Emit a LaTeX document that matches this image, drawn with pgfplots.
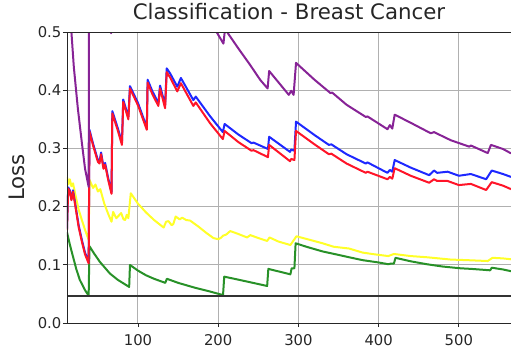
\documentclass[border=0pt]{standalone}
\usepackage{pgfplots}
\pgfplotsset{compat=1.18}
\usepackage{fontspec}
\setmainfont{DejaVu Sans}
\definecolor{txt}{RGB}{38,38,38}
\definecolor{gridc}{RGB}{176,176,176}
\definecolor{cgreen}{RGB}{40,145,40}
\definecolor{cyellow}{RGB}{255,255,40}
\definecolor{cred}{RGB}{255,20,40}
\definecolor{cblue}{RGB}{30,40,255}
\definecolor{cpurple}{RGB}{135,35,150}
\begin{document}
\begin{tikzpicture}
\begin{axis}[
  name=ax,
  scale only axis,
  width=444pt, height=291pt,
  xmin=11.5, xmax=565, ymin=0, ymax=0.5,
  xtick={100,200,300,400,500},
  ytick={0,0.1,0.2,0.3,0.4,0.5},
  yticklabels={0.0,0.1,0.2,0.3,0.4,0.5},
  xticklabels={100,200,300,400,500},
  tick pos=left,
  tick align=outside,
  major tick length=4pt,
  tick style={txt, line width=0.9pt},
  axis line style={draw=none},
  grid=major,
  major grid style={gridc, line width=1pt},
  /pgf/number format/assume math mode=true,
  tick label style={font=\fontsize{14.8}{16}\selectfont, text=txt, inner sep=0pt},
  yticklabel style={anchor=east, xshift=-1.5pt},
  xticklabel style={anchor=north, yshift=-7pt},
  title={Classification - Breast Cancer},
  title style={font=\fontsize{21.3}{24}\selectfont, text=txt, at={(axis description cs:0.5,1)}, anchor=base, yshift=7pt, inner sep=0pt},
  ylabel={Loss},
  ylabel style={font=\fontsize{21.3}{24}\selectfont, text=txt, at={(axis description cs:-0.0946,0.5)}, anchor=south, inner sep=0pt},
  every axis plot/.append style={line width=2pt, line join=round},
]
% green
\addplot[cgreen] coordinates {
(11.5,0.156)(15,0.135)(19,0.114)(23,0.093)(27.5,0.074)(33.75,0.057)(38.5,0.047)
(39.5,0.132)(45,0.12)(52.5,0.105)(65,0.085)(75,0.074)(89,0.062)
(90,0.0997)(100,0.09)(110,0.082)(120,0.076)(134,0.069)
(136,0.076)(150,0.069)(170,0.061)(190,0.054)(206,0.048)
(207.5,0.0796)(220,0.076)(240,0.07)(261,0.0636)
(262.5,0.093)(280,0.087)(290,0.0836)(291.5,0.094)(295,0.094)
(296.5,0.137)(310,0.131)(330,0.123)(350,0.117)(363,0.113)(380,0.108)(400,0.104)(412,0.101)(415,0.102)(419,0.102)
(421,0.112)(440,0.106)(460,0.101)(480,0.097)(502,0.094)(515,0.093)(530,0.0915)(539,0.0905)
(541,0.095)(555,0.092)(565,0.089)
};
% yellow
\addplot[cyellow] coordinates {
(11.5,0.251)(13,0.238)(15,0.247)(17,0.235)(19,0.24)(22,0.22)(26,0.195)(30,0.177)(34,0.16)(38.5,0.143)
(39.5,0.246)(44,0.232)(47,0.238)(50,0.226)(53,0.23)(58,0.205)(63,0.187)(67,0.174)
(69,0.191)(73,0.18)(75,0.183)(79,0.189)(82,0.178)(84,0.177)(86,0.186)(88,0.18)
(91,0.223)(100,0.205)(110,0.19)(120,0.177)(132,0.164)(135,0.174)(138,0.175)(142,0.168)(144,0.17)
(147,0.183)(152,0.178)(155,0.181)(160,0.177)(165,0.176)(175,0.166)(185,0.155)(194,0.146)(200,0.144)
(203,0.146)(206,0.15)(210,0.152)(215,0.158)(225,0.153)(236,0.147)(240,0.151)(250,0.146)(261,0.141)
(264,0.147)(275,0.14)(290,0.134)(297.5,0.149)(315,0.1426)(330,0.137)(344,0.131)(363,0.128)(380,0.121)
(395,0.118)(412,0.115)(419,0.1186)(440,0.115)(460,0.113)(490,0.109)(510,0.108)(536,0.1065)
(542,0.112)(555,0.111)(565,0.1095)
};
% blue
\addplot[cblue] coordinates {
(11.5,0.162)(13,0.233)(15,0.228)(17,0.213)(19,0.228)(22,0.203)(26,0.168)(30,0.143)(34,0.121)(38.5,0.105)
(39.5,0.332)(44,0.308)(50,0.280)(52,0.277)(54,0.293)(57,0.268)(59,0.275)(63,0.248)(67,0.225)
(68,0.364)(75,0.334)(80,0.310)(81.6,0.384)(88,0.354)(90,0.407)(100,0.378)(111,0.336)
(112,0.418)(118,0.398)(125.4,0.378)(127.5,0.408)(133.8,0.374)
(135.8,0.4375)(140,0.429)(149,0.406)(153.5,0.421)(169,0.383)(172,0.389)(190,0.355)(205.8,0.328)
(208,0.342)(225,0.324)(241.5,0.309)(244,0.310)(262,0.299)(263.5,0.320)(289.5,0.294)(291,0.298)(295,0.296)
(297,0.346)(320,0.323)(338,0.306)(341,0.307)(360,0.29)(384,0.274)(386,0.276)(411,0.258)(414,0.263)(417,0.260)
(420,0.280)(440,0.267)(463,0.254)(469,0.262)(473,0.258)(486,0.260)(500,0.253)(515,0.256)(534,0.247)
(541,0.262)(555,0.256)(565,0.251)
};
% red
\addplot[cred] coordinates {
(11.5,0.160)(13,0.231)(15,0.226)(17,0.211)(19,0.2256)(22,0.200)(26,0.165)(30,0.140)(34,0.118)(38.5,0.1025)
(39.5,0.329)(44,0.305)(50,0.277)(52,0.274)(54,0.290)(57,0.265)(59,0.272)(63,0.245)(67,0.222)
(68,0.360)(75,0.330)(80,0.306)(81.6,0.380)(88,0.350)(90,0.403)(100,0.374)(111,0.332)
(112,0.413)(118,0.393)(125.4,0.373)(127.5,0.403)(133.8,0.369)
(135.8,0.431)(140,0.422)(149,0.398)(153.5,0.412)(169,0.373)(172,0.379)(190,0.343)(205.8,0.316)
(208,0.330)(225,0.311)(241.5,0.296)(244,0.297)(262,0.285)(263.5,0.306)(289.5,0.278)(291,0.282)(295,0.280)
(297,0.330)(320,0.307)(338,0.290)(341,0.291)(360,0.274)(384,0.258)(386,0.260)(411,0.247)(414,0.251)(417,0.248)
(420,0.266)(440,0.253)(463,0.241)(469,0.247)(473,0.244)(486,0.244)(500,0.237)(515,0.239)(534,0.2285)
(541,0.242)(555,0.236)(565,0.230)
};
% purple
\addplot[cpurple] coordinates {
(11.5,0.75)(14,0.6)(17,0.5)(20,0.44)(25,0.369)(30,0.31)(34,0.265)(38.5,0.234)
(39.5,0.9)(50,0.7)(60,0.56)(66.5,0.498)
(67.5,0.9)(100,0.75)(150,0.6)(180,0.54)(198,0.5)(206.5,0.48)
(208.5,0.505)(225,0.472)(240,0.443)(252.5,0.4175)(261.6,0.403)
(263.5,0.433)(288,0.392)(291,0.399)(294,0.392)
(297,0.447)(320,0.418)(340,0.395)(342,0.396)(360,0.375)(384,0.354)(386,0.355)(411,0.333)(414,0.34)(417,0.334)
(420,0.358)(440,0.344)(465,0.326)(469,0.328)(490,0.314)(513,0.303)(515,0.305)(536,0.292)
(540,0.306)(555,0.299)(565,0.2915)
};
% black reference line
\addplot[black!80, line width=1.8pt] coordinates {(11.5,0.0466)(565,0.0466)};
\end{axis}
\draw[txt, line width=1pt] (ax.south east) -- (ax.south west) -- (ax.north west) -- (ax.north east);
\pgfresetboundingbox
\useasboundingbox (-67pt,-26pt) rectangle (444pt,323pt);
\end{tikzpicture}
\end{document}
